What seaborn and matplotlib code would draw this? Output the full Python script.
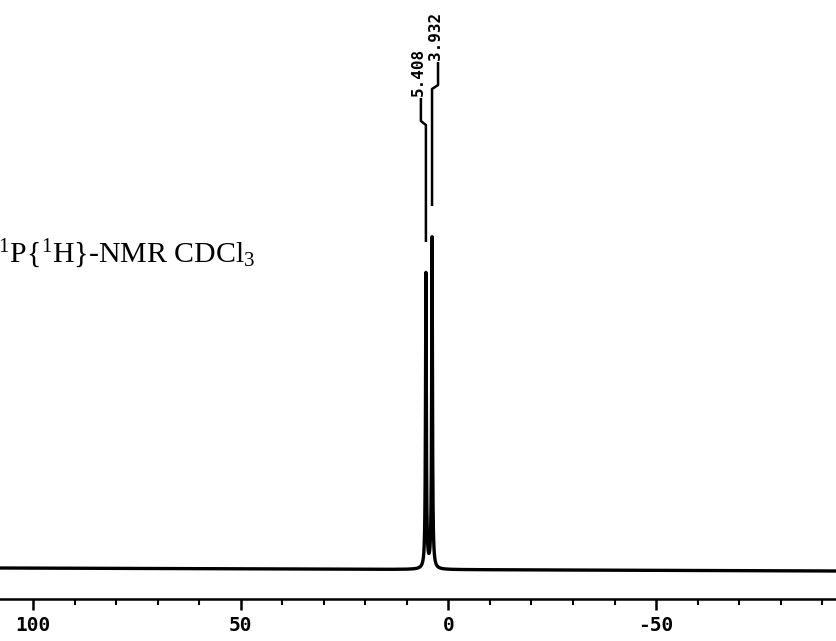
import numpy as np
import pandas as pd
import matplotlib
matplotlib.use("Agg")
import matplotlib.pyplot as plt
import seaborn as sns

# Resolved signals: chemical shift (ppm), peak height (intensity units) and printed shift
peak_ppm = [5.408, 3.932]
peak_height = [295.0, 331.0]
peak_labels = ["5.408", "3.932"]

# Baseline level at the two ends of the sweep
baseline_ppm = [107.94, -93.56]
baseline_level = [0.0, -3.0]

# Chemical-shift axis
major_ticks = [100, 50, 0, -50]
major_tick_labels = ["100", "50", "0", "-50"]
minor_ticks = [90, 80, 70, 60, 40, 30, 20, 10,
               -10, -20, -30, -40, -60, -70, -80, -90]

title = r"$^{31}$P{$^{1}$H}-NMR CDCl$_{3}$"

# ---- styling -------------------------------------------------------------
sns.set_style("white")
plt.rcParams["font.family"] = ["DejaVu Sans"]
plt.rcParams["mathtext.fontset"] = "custom"
plt.rcParams["mathtext.rm"] = "Liberation Serif"
plt.rcParams["mathtext.it"] = "Liberation Serif:italic"
plt.rcParams["mathtext.bf"] = "Liberation Serif:bold"

W, H, DPI = 837, 641, 100
fig = plt.figure(figsize=(W / DPI, H / DPI), dpi=DPI, facecolor="white")
axis_px = 599          # vertical pixel of the shift axis line
ax = fig.add_axes([0, (H - axis_px) / H, 1, axis_px / H])
ax.set_facecolor("white")

xlim = (baseline_ppm[0], baseline_ppm[1])
ylim = (-31, 568)
ppm_per_px = (xlim[0] - xlim[1]) / W

# ---- spectrum trace (Lorentzian lines on a drifting baseline) -----------
hwhm = 0.12
grid = np.arange(xlim[0], xlim[1], -0.01)
frac = (grid - baseline_ppm[0]) / (baseline_ppm[1] - baseline_ppm[0])
intensity = baseline_level[0] + frac * (baseline_level[1] - baseline_level[0])
for p, h in zip(peak_ppm, peak_height):
    intensity = intensity + h * hwhm ** 2 / ((grid - p) ** 2 + hwhm ** 2)

spec = pd.DataFrame({"ppm": grid, "intensity": intensity})
sns.lineplot(data=spec, x="ppm", y="intensity", ax=ax, color="black",
             linewidth=2.4, sort=False, estimator=None)

# ---- peak pick leaders and shift labels ----------------------------------
label_shift_px = [-5, 6]
for p, h, lab, s in zip(peak_ppm, peak_height, peak_labels, label_shift_px):
    xs = p - s * ppm_per_px
    ax.plot([p, p, xs, xs], [h + 31, h + 148, h + 152, h + 175],
            color="black", linewidth=1.8, solid_capstyle="butt")
    ax.text(xs + 3 * ppm_per_px, h + 177, lab, rotation=90,
            ha="center", va="bottom", fontsize=11.5, fontweight="bold",
            family="DejaVu Sans Mono", color="black")

# ---- axes ----------------------------------------------------------------
ax.set_xlim(*xlim)
ax.set_ylim(*ylim)
ax.set_xticks(major_ticks)
ax.set_xticklabels(major_tick_labels)
ax.set_xticks(minor_ticks, minor=True)
ax.set_yticks([])
ax.set_xlabel("")
ax.set_ylabel("")
for side in ("left", "top", "right"):
    ax.spines[side].set_visible(False)
ax.spines["bottom"].set_linewidth(1.8)
ax.spines["bottom"].set_color("black")
ax.tick_params(axis="x", which="both", bottom=True, top=False,
               direction="out", color="black", labelcolor="black")
ax.tick_params(axis="x", which="major", length=8, width=1.8, pad=4)
ax.tick_params(axis="x", which="minor", length=4.5, width=1.5)
for t in ax.get_xticklabels():
    t.set_fontfamily("DejaVu Sans Mono")
    t.set_fontweight("bold")
    t.set_fontsize(14)

fig.text(255 / W, 1 - 262 / H, title, ha="right", va="baseline",
         fontsize=21.5, family="Liberation Serif", color="black")

fig.savefig("out.png", dpi=DPI, facecolor="white")
